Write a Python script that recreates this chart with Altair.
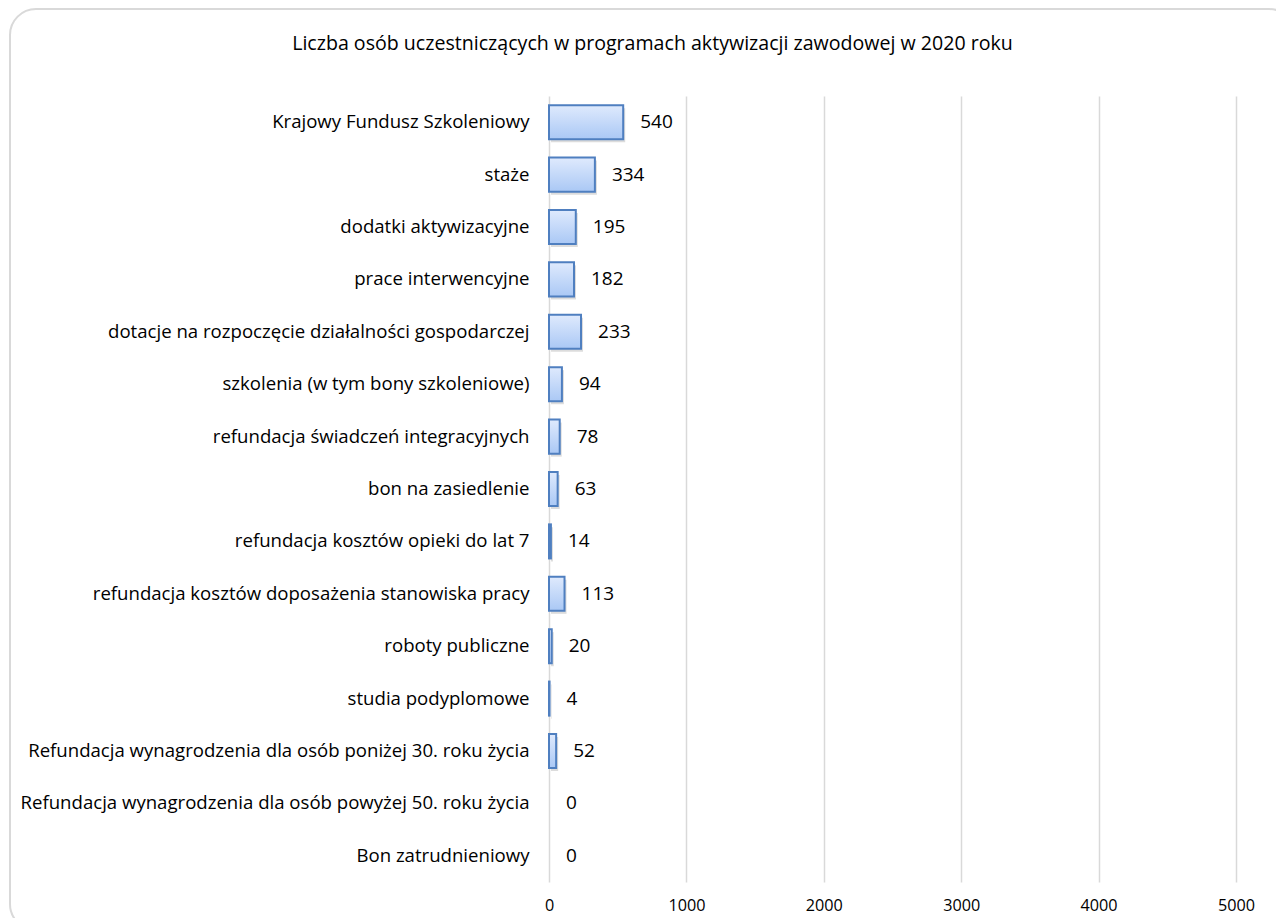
import altair as alt
import pandas as pd

categories = [
    "Krajowy Fundusz Szkoleniowy",
    "staże",
    "dodatki aktywizacyjne",
    "prace interwencyjne",
    "dotacje na rozpoczęcie działalności gospodarczej",
    "szkolenia (w tym bony szkoleniowe)",
    "refundacja świadczeń integracyjnych",
    "bon na zasiedlenie",
    "refundacja kosztów opieki do lat 7",
    "refundacja kosztów doposażenia stanowiska pracy",
    "roboty publiczne",
    "studia podyplomowe",
    "Refundacja wynagrodzenia dla osób poniżej 30. roku życia",
    "Refundacja wynagrodzenia dla osób powyżej 50. roku życia",
    "Bon zatrudnieniowy",
]
values = [540, 334, 195, 182, 233, 94, 78, 63, 14, 113, 20, 4, 52, 0, 0]
x_ticks = [0, 1000, 2000, 3000, 4000, 5000]
title_text = "Liczba osób uczestniczących w programach aktywizacji zawodowej w 2020 roku"

FONT = "Open Sans"

df = pd.DataFrame({"kategoria": categories, "liczba": values})
df_bars = df[df["liczba"] > 0]

x_enc = alt.X(
    "liczba:Q",
    scale=alt.Scale(domain=[0, 5000], nice=False),
    axis=alt.Axis(
        values=x_ticks, title=None, domain=False, ticks=False,
        grid=True, gridColor="#d9d9d9", gridWidth=1.5,
        labelFont=FONT, labelFontSize=16.2, labelColor="#000000", labelPadding=15,
        labelFlush=False, format="d",
    ),
)
y_enc = alt.Y(
    "kategoria:N",
    sort=categories,
    scale=alt.Scale(paddingInner=0.35, paddingOuter=0.175),
    axis=alt.Axis(
        title=None, domain=False, ticks=False, grid=False,
        labelFont=FONT, labelFontSize=18.6, labelColor="#000000", labelPadding=20,
        labelLimit=600,
    ),
)

frame = alt.Chart(pd.DataFrame({"a": [0]})).mark_rect(
    fill="white", fillOpacity=0, stroke="#d9d9d9", strokeWidth=2, cornerRadius=26
).encode(
    x=alt.value(-539), x2=alt.value(746), y=alt.value(-87), y2=alt.value(834)
)

shadow = alt.Chart(df_bars).mark_bar(
    color="#9a9a9a", opacity=0.35, xOffset=2, yOffset=3
).encode(x=x_enc, y=y_enc)

grad = alt.Gradient(
    gradient="linear",
    stops=[alt.GradientStop(color="#dfeafd", offset=0),
           alt.GradientStop(color="#aac8f5", offset=1)],
    x1=0, x2=0, y1=0, y2=1,
)

bars = alt.Chart(df_bars).mark_bar(
    fill=grad, stroke="#4f7fc0", strokeWidth=2
).encode(x=x_enc, y=y_enc)

labels = alt.Chart(df).mark_text(
    align="left", baseline="middle", dx=17, font=FONT, fontSize=19, color="#000000"
).encode(x=x_enc, y=y_enc, text=alt.Text("liczba:Q"))

chart = alt.layer(frame, shadow, bars, labels).properties(
    width=687,
    height=786,
    title=alt.TitleParams(
        title_text, anchor="middle", frame="group", dx=-240, offset=-47,
        font=FONT, fontSize=19.6, fontWeight="normal", color="#000000",
    ),
    autosize=alt.AutoSizeParams(type="none"),
    padding={"left": 541, "top": 88, "right": 40, "bottom": 36},
).configure_view(stroke=None)

chart.save("out.html", embed_options={"renderer": "svg", "actions": False})
